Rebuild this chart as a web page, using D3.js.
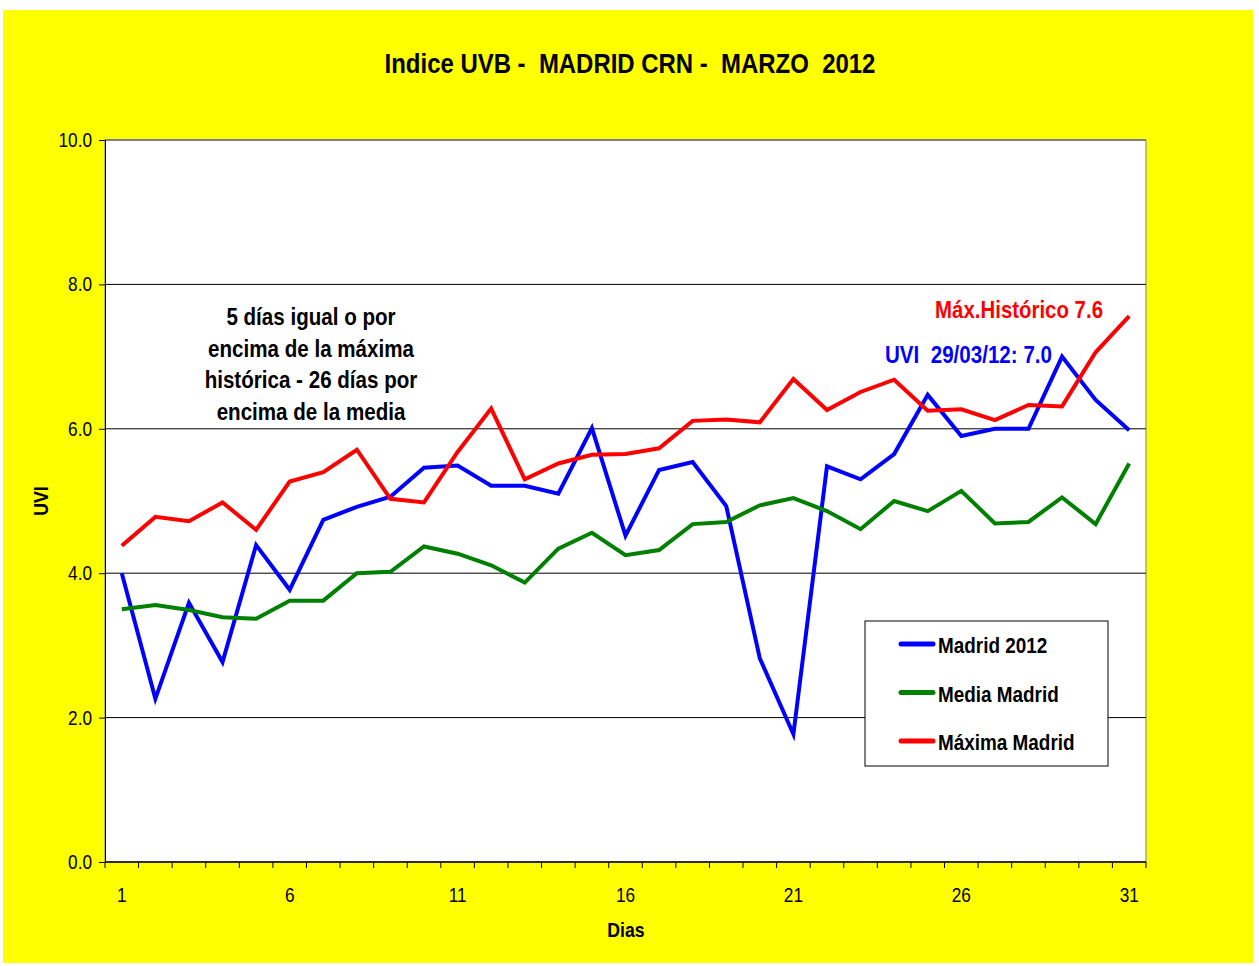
<!DOCTYPE html>
<html lang="es">
<head>
<meta charset="utf-8">
<title>Indice UVB - Madrid CRN - Marzo 2012</title>
<script src="https://d3js.org/d3.v7.min.js"></script>
<style>
  body { margin: 0; background: #fff; }
  text { font-family: "Liberation Sans", Arial, sans-serif; }
</style>
</head>
<body>
<div id="chart"></div>
<script>
// days of March
var dias = d3.range(1, 32);
var tickDias = [1, 6, 11, 16, 21, 26, 31];
var yTicks = [0, 2, 4, 6, 8, 10];

// UVI values
var madrid2012 = [4.0, 2.26, 3.59, 2.77, 4.39, 3.77, 4.74, 4.92, 5.06, 5.46,
                  5.49, 5.21, 5.21, 5.10, 6.01, 4.52, 5.43, 5.54, 4.93, 2.82,
                  1.77, 5.48, 5.30, 5.65, 6.47, 5.90, 6.0, 6.0, 7.0, 6.40, 5.98];
var mediaMadrid = [3.50, 3.56, 3.49, 3.39, 3.37, 3.62, 3.62, 4.0, 4.02, 4.37,
                   4.27, 4.11, 3.87, 4.34, 4.56, 4.25, 4.32, 4.68, 4.71, 4.94,
                   5.04, 4.86, 4.61, 5.0, 4.86, 5.14, 4.69, 4.71, 5.05, 4.68, 5.52];
var maximaMadrid = [4.38, 4.78, 4.72, 4.98, 4.60, 5.27, 5.40, 5.71, 5.03, 4.98,
                    5.68, 6.28, 5.30, 5.52, 5.64, 5.65, 5.73, 6.11, 6.13, 6.09,
                    6.69, 6.26, 6.51, 6.68, 6.25, 6.27, 6.12, 6.33, 6.31, 7.06, 7.56];

var series = [
  {name: "Madrid 2012", values: madrid2012, color: "#0000ff"},
  {name: "Media Madrid", values: mediaMadrid, color: "#008000"},
  {name: "Máxima Madrid", values: maximaMadrid, color: "#ff0000"}
];

var W = 1259, H = 966;
var margin = {top: 140, right: 113, bottom: 104, left: 105},
    width = W - margin.left - margin.right,
    height = H - margin.top - margin.bottom;

var svg = d3.select("#chart").append("svg")
    .attr("width", W)
    .attr("height", H);

// yellow frame
svg.append("rect")
    .attr("x", 3).attr("y", 10)
    .attr("width", 1250).attr("height", 953)
    .attr("fill", "#ffff00");

svg.append("text")
    .attr("x", 630).attr("y", 73)
    .attr("text-anchor", "middle")
    .attr("font-size", 28.5).attr("font-weight", "bold")
    .style("white-space", "pre")
    .text("Indice UVB -  MADRID CRN -  MARZO  2012");

var g = svg.append("g")
    .attr("transform", "translate(" + margin.left + "," + margin.top + ")");

var x = d3.scaleBand().domain(dias).range([0, width]);
var y = d3.scaleLinear().domain([0, 10]).range([height, 0]);

// plot area
g.append("rect")
    .attr("width", width).attr("height", height)
    .attr("fill", "#fff")
    .attr("stroke", "#808080").attr("stroke-width", 1);

// grid
g.append("g").selectAll("line")
  .data(yTicks.filter(function(d) { return d > 0; }))
  .enter().append("line")
    .attr("x1", 0).attr("x2", width)
    .attr("y1", function(d) { return y(d); })
    .attr("y2", function(d) { return y(d); })
    .attr("stroke", function(d) { return d == 10 ? "#808080" : "#000"; })
    .attr("stroke-width", function(d) { return d == 10 ? 2 : 1; });

// y axis
var yAxis = g.append("g")
    .call(d3.axisLeft(y).tickValues(yTicks).tickFormat(d3.format(".1f")).tickSize(6).tickPadding(7));
yAxis.select(".domain").attr("stroke", "#000");
yAxis.selectAll("text").attr("font-size", 20.5).attr("fill", "#000")
    .style("font-family", "'Liberation Sans', Arial, sans-serif");

// x axis: ticks sit between the days
var xAxis = g.append("g")
    .attr("transform", "translate(0," + height + ")");
xAxis.append("line")
    .attr("x1", 0).attr("x2", width)
    .attr("stroke", "#000").attr("stroke-width", 1.5);
xAxis.selectAll(".tk")
  .data(dias.concat([32]))
  .enter().append("line")
    .attr("class", "tk")
    .attr("x1", function(d, i) { return i * x.step(); })
    .attr("x2", function(d, i) { return i * x.step(); })
    .attr("y1", 0).attr("y2", 6)
    .attr("stroke", "#000");
xAxis.selectAll(".lbl")
  .data(tickDias)
  .enter().append("text")
    .attr("class", "lbl")
    .attr("x", function(d) { return x(d) + x.bandwidth() / 2; })
    .attr("y", 40)
    .attr("text-anchor", "middle")
    .attr("font-size", 20.5)
    .text(function(d) { return d; });

svg.append("text")
    .attr("x", 626).attr("y", 937)
    .attr("text-anchor", "middle")
    .attr("font-size", 21).attr("font-weight", "bold")
    .text("Dias");

svg.append("text")
    .attr("transform", "translate(48,501) rotate(-90)")
    .attr("text-anchor", "middle")
    .attr("font-size", 21).attr("font-weight", "bold")
    .text("UVI");

// lines
var line = d3.line()
    .x(function(d, i) { return x(dias[i]) + x.bandwidth() / 2; })
    .y(function(d) { return y(d); });

g.selectAll(".serie")
  .data(series)
  .enter().append("path")
    .attr("class", "serie")
    .attr("fill", "none")
    .attr("stroke", function(d) { return d.color; })
    .attr("stroke-width", 4)
    .attr("stroke-linejoin", "miter")
    .attr("d", function(d) { return line(d.values); });

// note
var nota = ["5 días igual o por", "encima de la máxima", "histórica - 26 días por", "encima de la media"];
svg.append("g").selectAll("text")
  .data(nota)
  .enter().append("text")
    .attr("x", 311)
    .attr("y", function(d, i) { return 325 + i * 31.5; })
    .attr("text-anchor", "middle")
    .attr("font-size", 24.5).attr("font-weight", "bold")
    .text(function(d) { return d; });

svg.append("text")
    .attr("x", 1103).attr("y", 318)
    .attr("text-anchor", "end")
    .attr("font-size", 24.3).attr("font-weight", "bold")
    .attr("fill", "#ff0000")
    .text("Máx.Histórico 7.6");

svg.append("text")
    .attr("x", 1052).attr("y", 363)
    .attr("text-anchor", "end")
    .attr("font-size", 24.5).attr("font-weight", "bold")
    .attr("fill", "#0000ff")
    .style("white-space", "pre")
    .text("UVI  29/03/12: 7.0");

// legend
var legend = svg.append("g").attr("transform", "translate(865,621)");
legend.append("rect")
    .attr("width", 243).attr("height", 145)
    .attr("fill", "#fff").attr("stroke", "#000");
var item = legend.selectAll(".item")
  .data(series)
  .enter().append("g")
    .attr("transform", function(d, i) { return "translate(0," + (23 + i * 48.5) + ")"; });
item.append("line")
    .attr("x1", 36).attr("x2", 68)
    .attr("stroke", function(d) { return d.color; })
    .attr("stroke-width", 5)
    .attr("stroke-linecap", "round");
item.append("text")
    .attr("x", 73).attr("y", 9)
    .attr("font-size", 22.5).attr("font-weight", "bold")
    .text(function(d) { return d.name; });

// the original uses a narrow face: squeeze every label horizontally
svg.selectAll("text").each(function() {
  var len = this.getComputedTextLength();
  this.setAttribute("textLength", len * 0.84);
  this.setAttribute("lengthAdjust", "spacingAndGlyphs");
});
</script>
</body>
</html>
